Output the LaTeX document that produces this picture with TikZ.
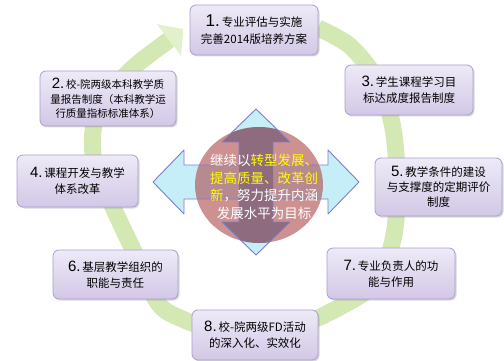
\documentclass[tikz,border=0pt]{standalone}
\usepackage{fontspec}
\setmainfont{Noto Sans CJK SC}
\newfontfamily\numfont{Liberation Sans}
\usetikzlibrary{shadows}
\definecolor{ringc}{RGB}{212,232,180}
\definecolor{ringd}{RGB}{226,240,204}
\definecolor{boxtop}{RGB}{238,234,247}
\definecolor{boxbot}{RGB}{210,200,230}
\definecolor{boxline}{RGB}{168,158,205}
\definecolor{arrfill}{RGB}{198,238,248}
\definecolor{arrline}{RGB}{125,125,200}
\definecolor{circfill}{RGB}{172,72,72}
\definecolor{ytext}{RGB}{255,255,0}
\tikzset{
  stepbox/.style={draw=boxline, line width=0.8pt, rounded corners=6pt,
    top color=boxtop, bottom color=boxbot,
    drop shadow={shadow xshift=1.5pt, shadow yshift=-1.5pt, opacity=0.3},
    align=center, inner sep=0pt, font=\fontsize{11.5}{16}\selectfont},
  bignum/.style={},
}
\newcommand{\nm}[2][15]{{\numfont\fontsize{#1}{#1}\selectfont #2}\,}
\begin{document}
\begin{tikzpicture}[x=1pt,y=-1pt]
\useasboundingbox (0,0) rectangle (504,361);
% green circular arrow
\draw[ringc, line width=17pt] plot[smooth, tension=0.55] coordinates {
 (318,28) (350,46) (377,80) (392,123) (397,175) (394,235) (376,282) (338,308)
 (295,327) (255,334) (215,330) (180,318) (158,303) (137,258) (113,207) (94,160)
 (95,120) (113,90) (135,66) (169,40)};
\fill[ringd] (156.9,24.1) -- (183.3,29.1) -- (181.1,55.9) -- cycle;
% central quad arrow
\begin{scope}[shift={(256,182)}]
\path[save path=\qa] (0,-73) -- (34,-40) -- (17,-40) -- (17,-17) -- (72,-17) -- (72,-32) -- (103,0)
 -- (72,32) -- (72,17) -- (17,17) -- (17,40) -- (34,40) -- (0,73) -- (-34,40) -- (-17,40)
 -- (-17,17) -- (-72,17) -- (-72,32) -- (-103,0) -- (-72,-32) -- (-72,-17) -- (-17,-17)
 -- (-17,-40) -- (-34,-40) -- cycle;
\path[save path=\qv] (0,-73) -- (34,-40) -- (17,-40) -- (17,40) -- (34,40) -- (0,73) -- (-34,40)
 -- (-17,40) -- (-17,-40) -- (-34,-40) -- cycle;
\fill[arrfill, use path=\qa, drop shadow={shadow xshift=1pt, shadow yshift=-1pt, opacity=0.25}];
\end{scope}
\fill[circfill, opacity=0.6] (259,185) ellipse [x radius=64, y radius=58];
\begin{scope}
\clip (259,185) ellipse [x radius=64, y radius=58];
\begin{scope}[shift={(256,182)}]
\fill[black!70!blue, opacity=0.22, use path=\qv];
\end{scope}
\end{scope}
\begin{scope}[shift={(256,182)}]
\draw[arrline, line width=0.9pt, line join=round, use path=\qa];
\end{scope}
\node[align=center, font=\fontsize{13.5}{17.5}\selectfont, inner sep=0pt] (core) at (264,187)
 {\textcolor{white}{继续以}\textcolor{ytext}{转型发展、}\\
  \textcolor{ytext}{提高质量、改革创}\\
  \textcolor{ytext}{新}\textcolor{white}{，努力提升内涵}\\
  \textcolor{white}{发展水平为目标}};
% boxes
\node[stepbox, minimum width=128pt, minimum height=50pt] (b1) at (254,30)
 {\nm[17]{1.}专业评估与实施\\[1pt]完善2014版培养方案};
\node[stepbox, minimum width=136pt, minimum height=55pt, font=\fontsize{10.5}{14.5}\selectfont] (b2) at (108,98.5)
 {\nm[15]{2.}校-院两级本科教学质\\量报告制度（本科教学运\\行质量指标标准体系）};
\node[stepbox, minimum width=128pt, minimum height=50pt] (b3) at (409,90)
 {\nm{3.}学生课程学习目\\标达成度报告制度};
\node[stepbox, minimum width=121pt, minimum height=52pt] (b4) at (77.5,181)
 {\nm{4.}课程开发与教学\\体系改革};
\node[stepbox, minimum width=127pt, minimum height=58pt, font=\fontsize{11.5}{15}\selectfont] (b5) at (438.5,187)
 {\nm{5.}教学条件的建设\\与支撑度的定期评价\\制度};
\node[stepbox, minimum width=125pt, minimum height=49pt] (b6) at (115.5,274.5)
 {\nm{6.}基层教学组织的\\职能与责任};
\node[stepbox, minimum width=128pt, minimum height=51pt] (b7) at (391,273.5)
 {\nm{7.}专业负责人的功\\能与作用};
\node[stepbox, minimum width=126pt, minimum height=50pt] (b8) at (255,335)
 {\nm{8.}校-院两级FD活动\\的深入化、实效化};
\end{tikzpicture}
\end{document}
